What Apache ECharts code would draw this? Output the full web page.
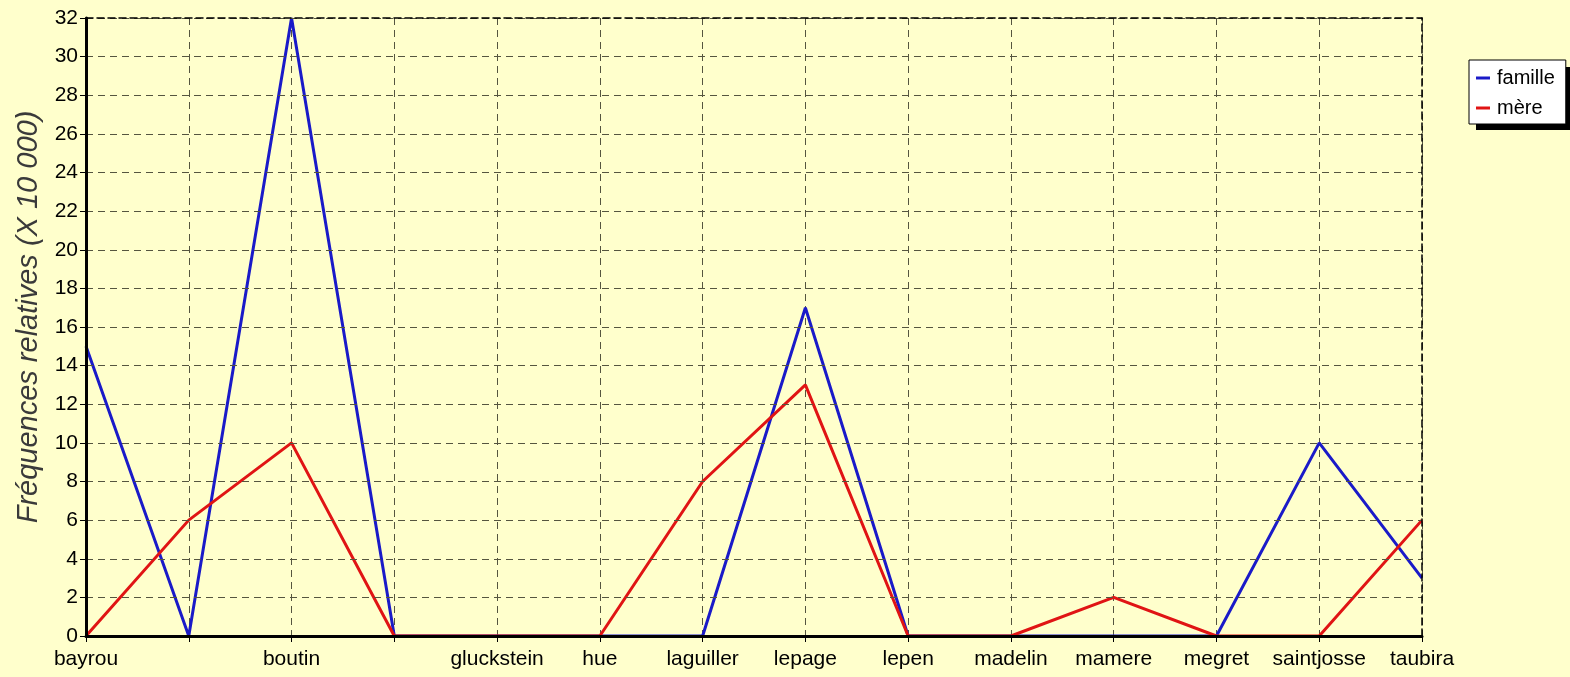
<!DOCTYPE html>
<html>
<head>
<meta charset="utf-8">
<script src="https://cdn.jsdelivr.net/npm/echarts@6/dist/echarts.min.js"></script>
<style>
html,body{margin:0;padding:0;background:#FFFFCC;}
#chart{width:1570px;height:677px;}
</style>
</head>
<body>
<div id="chart"></div>
<script>
const categories = ['bayrou', ' ', 'boutin', '  ', 'gluckstein', 'hue', 'laguiller', 'lepage', 'lepen', 'madelin', 'mamere', 'megret', 'saintjosse', 'taubira'];
const famille = [15, 0, 32, 0, 0, 0, 0, 17, 0, 0, 0, 0, 10, 3];
const mere    = [0, 6, 10, 0, 0, 0, 8, 13, 0, 0, 2, 0, 0, 6];
const yTicks = { min: 0, max: 32, interval: 2 };
const yTitle = 'Fréquences relatives (X 10 000)';

const FONT = 'Arial, "Liberation Sans", sans-serif';
const chart = echarts.init(document.getElementById('chart'));
const grid = { left: 86, right: 148, top: 18, bottom: 41 };
chart.setOption({
  backgroundColor: '#FFFFCC',
  animation: false,
  grid: grid,
  graphic: [
    { type: 'rect', left: 1476, top: 67, shape: { width: 95, height: 63 }, style: { fill: '#000' }, z: 1 }
  ],
  legend: {
    orient: 'vertical',
    left: 1469, top: 60,
    padding: [8, 11, 6, 7],
    itemGap: 10,
    itemWidth: 14, itemHeight: 3,
    icon: 'rect',
    backgroundColor: '#ffffff',
    borderColor: '#000', borderWidth: 1, borderRadius: 0,
    z: 5,
    textStyle: { fontFamily: FONT, fontSize: 20, color: '#000', padding: [0, 0, 0, 2] },
    data: ['famille', 'mère']
  },
  xAxis: [
    {
      type: 'category', data: categories, boundaryGap: false, position: 'bottom', z: 0,
      axisLine: { show: false },
      axisTick: { show: true, length: 6, inside: false, lineStyle: { color: '#000', width: 1 } },
      axisLabel: { interval: 0, fontFamily: FONT, fontSize: 21, color: '#000', margin: 13 },
      splitLine: { show: true, lineStyle: { color: '#55553f', type: [7, 5], width: 1 } }
    },
    {
      type: 'category', data: categories, boundaryGap: false, position: 'bottom', z: 10,
      axisLine: { show: true, onZero: false, lineStyle: { color: '#000', width: 3 } },
      axisTick: { show: false }, axisLabel: { show: false }, splitLine: { show: false }
    },
    {
      type: 'category', data: categories, boundaryGap: false, position: 'top', z: 10,
      axisLine: { show: true, onZero: false, lineStyle: { color: '#000', width: 1.5, type: [7, 4] } },
      axisTick: { show: false }, axisLabel: { show: false }, splitLine: { show: false }
    }
  ],
  yAxis: [
    {
      type: 'value', min: yTicks.min, max: yTicks.max, interval: yTicks.interval, position: 'left', z: 10,
      name: yTitle, nameLocation: 'middle', nameGap: 43, nameRotate: 90,
      nameTextStyle: { fontFamily: FONT, fontSize: 29, fontStyle: 'italic', color: '#3a3a3a', padding: [0, 0, 0, 20] },
      axisLine: { show: true, onZero: false, lineStyle: { color: '#000', width: 3 } },
      axisTick: { show: true, length: 6, lineStyle: { color: '#000', width: 1 } },
      axisLabel: { fontFamily: FONT, fontSize: 21, color: '#000', margin: 8 },
      splitLine: { show: true, lineStyle: { color: '#55553f', type: [7, 5], width: 1 } }
    },
    {
      type: 'value', min: yTicks.min, max: yTicks.max, interval: yTicks.interval, position: 'right', z: 10,
      axisLine: { show: true, onZero: false, lineStyle: { color: '#000', width: 1.5, type: [7, 4] } },
      axisTick: { show: false }, axisLabel: { show: false }, splitLine: { show: false }
    }
  ],
  series: [
    {
      name: 'famille', type: 'line', data: famille, xAxisIndex: 0, yAxisIndex: 0,
      showSymbol: false, symbol: 'none', color: '#1a1ac8',
      lineStyle: { color: '#1a1ac8', width: 3 }, z: 3
    },
    {
      name: 'mère', type: 'line', data: mere, xAxisIndex: 0, yAxisIndex: 0,
      showSymbol: false, symbol: 'none', color: '#e01414',
      lineStyle: { color: '#e01414', width: 3 }, z: 4
    }
  ]
});
</script>
</body>
</html>
